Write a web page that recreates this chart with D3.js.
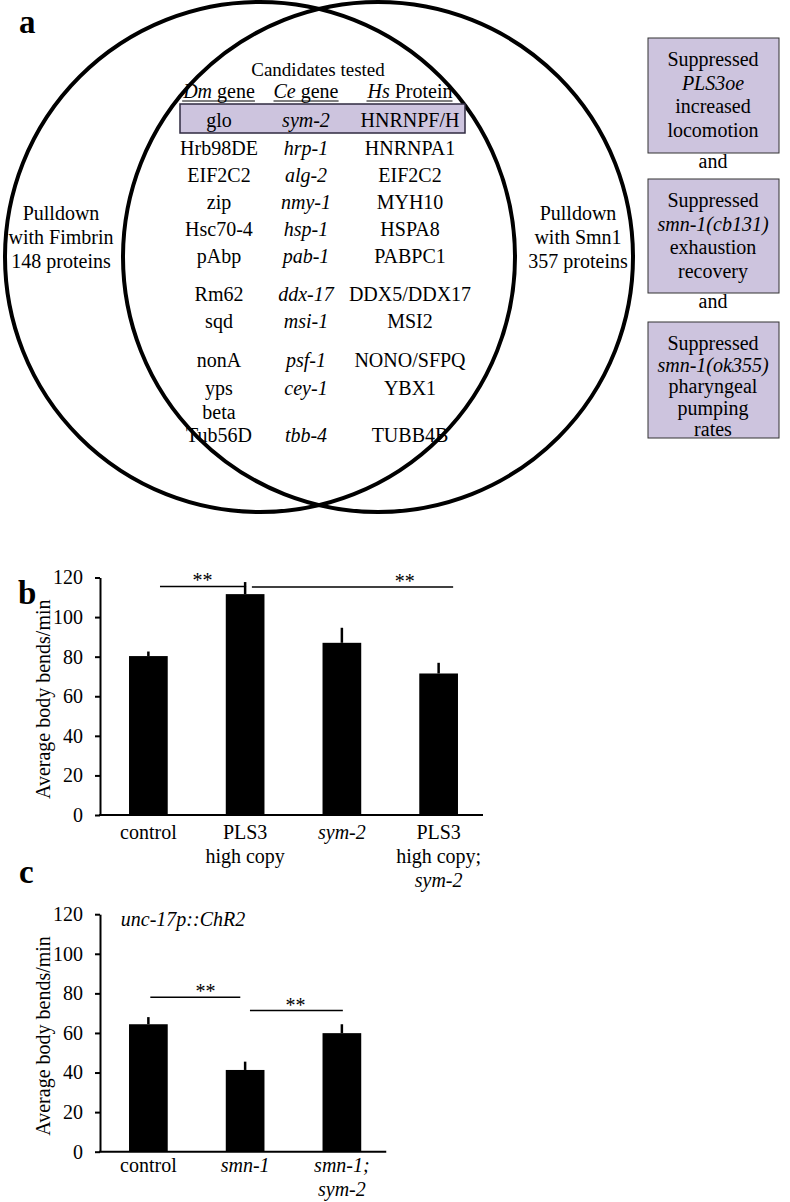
<!DOCTYPE html>
<html>
<head>
<meta charset="utf-8">
<script src="https://cdn.jsdelivr.net/npm/d3@7"></script>
<style>
  body { margin: 0; background: #fff; }
  svg text { font-family: "Liberation Serif", "Times New Roman", serif; fill: #000; }
</style>
</head>
<body>
<div id="fig"></div>
<script>
// panel a: pulldown sets and candidates
var pulldowns = [
  {bait: "Fimbrin", count: 148},
  {bait: "Smn1", count: 357}
];
var dmGenes = ["glo", "Hrb98DE", "EIF2C2", "zip", "Hsc70-4", "pAbp", "Rm62", "sqd", "nonA", "yps", "beta Tub56D"];
var ceGenes = ["sym-2", "hrp-1", "alg-2", "nmy-1", "hsp-1", "pab-1", "ddx-17", "msi-1", "psf-1", "cey-1", "tbb-4"];
var hsProteins = ["HNRNPF/H", "HNRNPA1", "EIF2C2", "MYH10", "HSPA8", "PABPC1", "DDX5/DDX17", "MSI2", "NONO/SFPQ", "YBX1", "TUBB4B"];
// "_" marks an italic line
var screens = [
  ["Suppressed", "_PLS3oe", "increased", "locomotion"],
  ["Suppressed", "_smn-1(cb131)", "exhaustion", "recovery"],
  ["Suppressed", "_smn-1(ok355)", "pharyngeal", "pumping", "rates"]
];

// panel b
var bCategories = ["control", "PLS3|high copy", "_sym-2", "PLS3|high copy;|_sym-2"];
var bValues = [80.3, 111.6, 87.0, 71.5];
var bErrors = [2.3, 6.1, 7.6, 5.4];
var bSignif = [{from: 0, to: 1, value: 115.5, label: "**"}, {from: 1, to: 3, value: 115.2, label: "**"}];

// panel c
var cCategories = ["control", "_smn-1", "_smn-1;|_sym-2"];
var cValues = [64.4, 41.3, 59.9];
var cErrors = [3.6, 4.2, 4.5];
var cSignif = [{from: 0, to: 1, value: 78.1, label: "**"}, {from: 1, to: 2, value: 71.3, label: "**"}];

var yTicks = [0, 20, 40, 60, 80, 100, 120];

var W = 790, H = 1202;
var svg = d3.select("#fig").append("svg")
  .attr("width", W)
  .attr("height", H);

function addLine(g, str, x, y, size) {
  var it = str.charAt(0) == "_";
  g.append("text")
    .attr("x", x)
    .attr("y", y)
    .attr("text-anchor", "middle")
    .style("font-size", size + "px")
    .style("font-style", it ? "italic" : "normal")
    .text(it ? str.slice(1) : str);
}

function panelLabel(t, x, y) {
  svg.append("text")
    .attr("x", x).attr("y", y)
    .style("font-size", "33px")
    .style("font-weight", "bold")
    .text(t);
}

// ---------- panel a ----------
panelLabel("a", 19, 33);

var vennR = 255;
var vennX = [260, 378];
var vennY = 257;
var labelX = [61, 578];

pulldowns.forEach(function(p, i) {
  svg.append("circle")
    .attr("cx", vennX[i])
    .attr("cy", vennY)
    .attr("r", vennR)
    .style("fill", "none")
    .style("stroke", "#000")
    .style("stroke-width", 4);
  var lines = ["Pulldown", "with " + p.bait, p.count + " proteins"];
  lines.forEach(function(l, k) {
    addLine(svg, l, labelX[i], 220 + k * 24, 20);
  });
});

var colX = [219, 306, 410];
var rowY = [127, 155, 182, 209, 236, 263, 301, 328, 367, 395, 442];

svg.append("rect")
  .attr("x", 180).attr("y", 104)
  .attr("width", 285).attr("height", 29)
  .style("fill", "#cdc4de")
  .style("stroke", "#2f2a40")
  .style("stroke-width", 1.5);

svg.append("text")
  .attr("x", 318).attr("y", 76)
  .attr("text-anchor", "middle")
  .style("font-size", "19px")
  .text("Candidates tested");

var heads = [["Dm", " gene"], ["Ce", " gene"], ["Hs", " Protein"]];
heads.forEach(function(h, i) {
  var t = svg.append("text")
    .attr("x", colX[i]).attr("y", 98)
    .attr("text-anchor", "middle")
    .style("font-size", "20px");
  t.append("tspan").style("font-style", "italic").text(h[0]);
  t.append("tspan").text(h[1]);
  var bb = t.node().getBBox();
  svg.append("line")
    .attr("x1", bb.x).attr("x2", bb.x + bb.width)
    .attr("y1", 101).attr("y2", 101)
    .style("stroke", "#000")
    .style("stroke-width", 1);
});

dmGenes.forEach(function(g, i) {
  var parts = g.split(" ");
  if (parts.length > 1) {
    addLine(svg, parts[0], colX[0], rowY[i] - 23, 20);
    addLine(svg, parts[1], colX[0], rowY[i], 20);
  } else {
    addLine(svg, g, colX[0], rowY[i], 20);
  }
  addLine(svg, "_" + ceGenes[i], colX[1], rowY[i], 20);
  addLine(svg, hsProteins[i], colX[2], rowY[i], 20);
});

var boxTop = [38, 179, 322];
var boxH = [115, 114, 116];
screens.forEach(function(s, i) {
  svg.append("rect")
    .attr("x", 648).attr("y", boxTop[i])
    .attr("width", 131).attr("height", boxH[i])
    .style("fill", "#cdc4de")
    .style("stroke", "#333")
    .style("stroke-width", 1);
  var step = s.length > 4 ? 21.5 : 23.5;
  s.forEach(function(l, k) {
    addLine(svg, l, 713, boxTop[i] + 28 + k * step, 20);
  });
  if (i < screens.length - 1) {
    addLine(svg, "and", 713, boxTop[i] + boxH[i] + 15, 20);
  }
});

// ---------- bar charts ----------
// sigPos: [line start, line end, stars] in category steps from the first bar centre
function barChart(cfg) {
  var x = d3.scaleBand()
    .domain(cfg.categories)
    .range([100, 100 + cfg.categories.length * 96.75])
    .paddingInner(0.6)
    .paddingOuter(0.3);
  var y = d3.scaleLinear()
    .domain([0, 120])
    .range([cfg.y0, cfg.y0 - 237.5]);
  var c0 = x(cfg.categories[0]) + x.bandwidth() / 2;
  var step = x.step();

  var g = svg.append("g");

  g.selectAll(".bar")
    .data(cfg.values)
    .enter().append("rect")
    .attr("class", "bar")
    .attr("x", function(d, i) { return x(cfg.categories[i]); })
    .attr("y", function(d) { return y(d); })
    .attr("width", x.bandwidth())
    .attr("height", function(d) { return y(0) - y(d); })
    .style("fill", "#000");

  g.selectAll(".err")
    .data(cfg.values)
    .enter().append("line")
    .attr("class", "err")
    .attr("x1", function(d, i) { return x(cfg.categories[i]) + x.bandwidth() / 2; })
    .attr("x2", function(d, i) { return x(cfg.categories[i]) + x.bandwidth() / 2; })
    .attr("y1", function(d) { return y(d); })
    .attr("y2", function(d, i) { return y(d + cfg.errors[i]); })
    .style("stroke", "#000")
    .style("stroke-width", 2.5);

  var ax = g.append("g")
    .attr("transform", "translate(100,0)")
    .call(d3.axisLeft(y).tickValues(yTicks).tickSizeInner(5).tickSizeOuter(0).tickPadding(12));
  ax.selectAll("path, line").style("stroke", "#000").style("stroke-width", 2);
  ax.selectAll("text")
    .style("font-size", "20px")
    .style("font-family", '"Liberation Serif", "Times New Roman", serif');

  g.append("line")
    .attr("x1", 99).attr("x2", x.range()[1] - 4)
    .attr("y1", y(0)).attr("y2", y(0))
    .style("stroke", "#000")
    .style("stroke-width", 2);

  g.append("text")
    .attr("transform", "translate(50," + (y(60) + 3) + ") rotate(-90)")
    .attr("text-anchor", "middle")
    .style("font-size", "20px")
    .text("Average body bends/min");

  cfg.categories.forEach(function(c, i) {
    var cx = x(c) + x.bandwidth() / 2;
    c.split("|").forEach(function(l, k) {
      addLine(g, l, cx, y(0) + cfg.labelGap + k * 24, 20);
    });
  });

  cfg.signif.forEach(function(s, i) {
    var p = cfg.sigPos[i];
    g.append("line")
      .attr("x1", c0 + p[0] * step).attr("x2", c0 + p[1] * step)
      .attr("y1", y(s.value)).attr("y2", y(s.value))
      .style("stroke", "#000")
      .style("stroke-width", 1.5);
    g.append("text")
      .attr("x", c0 + p[2] * step).attr("y", y(s.value) + 1)
      .attr("text-anchor", "middle")
      .style("font-size", "20px")
      .text(s.label);
  });

  if (cfg.note) {
    addLine(g, cfg.note, 183, y(0) - 226, 20);
  }
}

panelLabel("b", 18, 604);
barChart({categories: bCategories, values: bValues, errors: bErrors, signif: bSignif,
  sigPos: [[0.12, 1.01, 0.56], [1.07, 3.15, 2.65]], y0: 815, labelGap: 24});

panelLabel("c", 19, 883);
barChart({categories: cCategories, values: cValues, errors: cErrors, signif: cSignif,
  sigPos: [[0.02, 0.95, 0.59], [1.05, 2.01, 1.52]], y0: 1151.7, labelGap: 20, note: "_unc-17p::ChR2"});
</script>
</body>
</html>
